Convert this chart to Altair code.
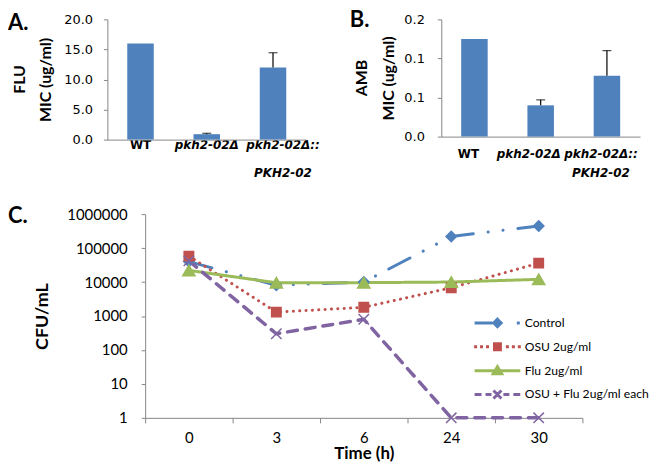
import altair as alt
import pandas as pd

FONT = "Lato"
AB_FONT = "DejaVu Sans"
BAR_COLOR = "#4F81BD"
AXIS_COLOR = "#868686"

# ---------------- data: panels A and B ----------------
strains = ["WT", "pkh2-02Δ", "pkh2-02Δ::PKH2-02"]
flu_mic = [16.0, 0.9, 12.0]
flu_err = [0.0, 0.15, 2.45]
flu_ticks = [0, 5, 10, 15, 20]
amb_mic = [0.125, 0.04, 0.078]
amb_err = [0.0, 0.007, 0.032]
amb_ticks = [0, 0.05, 0.1, 0.15]
amb_tick_labels = ["0.0", "0.1", "0.1", "0.2"]

# ---------------- data: panel C ----------------
times = ["0", "3", "6", "24", "30"]
series_names = ["Control", "OSU 2ug/ml", "Flu 2ug/ml", "OSU + Flu 2ug/ml each"]
control_cfu = [40000, 8000, 10000, 220000, 450000]
osu_cfu = [58000, 1300, 1800, 6800, 36000]
flu_cfu = [22000, 9500, 9600, 10000, 12000]
combo_cfu = [42000, 300, 800, 1, 1]
cfu_ticks = [1, 10, 100, 1000, 10000, 100000, 1000000]
series_colors = ["#4F81BD", "#C0504D", "#9BBB59", "#8064A2"]


def text_mark(text, dx, dy, size=22, angle=0, align="left", baseline="top"):
    return alt.Chart(pd.DataFrame({"t": [text]})).mark_text(
        align=align, baseline=baseline, font=FONT, fontSize=size, fontWeight="bold",
        color="black", angle=angle,
    ).encode(text="t:N", x=alt.value(dx), y=alt.value(dy))


label_expr = "datum.label == '%s' ? ['pkh2-02Δ::', 'PKH2-02'] : datum.label" % strains[2]


def bar_panel(mic, err, ticks, y_label_kw, drug, height, domain_max,
              letter_text, ldx, ldy, drug_dx, lab_pad, lab_lh, off_strain, off_val, off_default,
              y_lab_pad, title_pad):
    df = pd.DataFrame({"strain": strains, "mic": mic, "err": err})
    df["top"] = df["mic"] + df["err"]
    x = alt.X(
        "strain:N", sort=strains,
        scale=alt.Scale(paddingInner=0.6, paddingOuter=0.3),
        axis=alt.Axis(
            title=None, labelAngle=0, ticks=False, domainColor=AXIS_COLOR, domainWidth=1,
            labelFont=AB_FONT, labelFontSize=12, labelFontWeight="bold", labelColor="black",
            labelFontStyle={"condition": {"test": "datum.value == 'WT'", "value": "normal"}, "value": "italic"},
            labelOffset={"condition": {"test": "datum.value == '%s'" % off_strain, "value": off_val},
                         "value": off_default},
            labelExpr=label_expr, labelPadding=lab_pad, labelLineHeight=lab_lh,
        ),
    )
    y_axis = alt.Axis(
        values=ticks, grid=False, tickSize=4, tickColor=AXIS_COLOR, domainColor=AXIS_COLOR,
        labelFont=AB_FONT, labelFontSize=13, labelColor="black", labelPadding=y_lab_pad,
        title="MIC (ug/ml)", titleFont=FONT, titleFontSize=16, titleFontWeight="bold", titleColor="black",
        titlePadding=title_pad, **y_label_kw,
    )
    yscale = alt.Scale(domain=[0, domain_max], nice=False, zero=True)
    bars = alt.Chart(df).mark_bar(color=BAR_COLOR).encode(
        x=x, y=alt.Y("mic:Q", scale=yscale, axis=y_axis))
    edf = df[df["err"] > 0]
    rule = alt.Chart(edf).mark_rule(color="black", strokeWidth=1.2).encode(
        x=x, y=alt.Y("mic:Q", scale=yscale, axis=y_axis), y2="top:Q")
    cap = alt.Chart(edf).mark_tick(color="black", thickness=1.2, size=9).encode(
        x=x, y=alt.Y("top:Q", scale=yscale, axis=y_axis))
    return alt.layer(
        bars, rule, cap,
        text_mark(letter_text, ldx, ldy),
        text_mark(drug, drug_dx, height / 2, size=16, angle=270, align="center", baseline="middle"),
    ).properties(width=200, height=height)


# labelExpr for AMB axis built from tick values / labels
amb_expr = "'%s'" % amb_tick_labels[-1]
for i in range(len(amb_ticks) - 2, -1, -1):
    mid = (amb_ticks[i] + amb_ticks[i + 1]) / 2
    amb_expr = "datum.value < %g ? '%s' : (%s)" % (mid, amb_tick_labels[i], amb_expr)

panel_a = bar_panel(flu_mic, flu_err, flu_ticks, {"format": ".1f"}, "FLU", 121, 20,
                    "A.", -100, -6.5, -88, 0, 28, strains[2], 10, 0, 11, 10)
panel_b = bar_panel(amb_mic, amb_err, amb_ticks, {"labelExpr": amb_expr}, "AMB", 118, 0.15,
                    "B.", -92, -9, -80, 12, 19, strains[1], -12, -6, 13, 7)

# ---------------- panel C ----------------
rows = []
for s, vals in zip(series_names, [control_cfu, osu_cfu, flu_cfu, combo_cfu]):
    for t, v in zip(times, vals):
        rows.append({"time": t, "series": s, "cfu": v})
cdf = pd.DataFrame(rows)

C_WIDTH = 478
C_LEFT = 38  # plot area starts this far right of the panel origin

xc = alt.X(
    "time:N", sort=times, bandPosition=0.5,
    scale=alt.Scale(type="band", paddingInner=0, paddingOuter=0, range=[C_LEFT, C_WIDTH]),
    axis=alt.Axis(
        title="Time (h)", labelAngle=0, tickBand="extent", tickSize=5, tickColor=AXIS_COLOR,
        domainColor=AXIS_COLOR, labelFont=FONT, labelFontSize=15, labelColor="black", labelPadding=8,
        titleFont=FONT, titleFontSize=17, titleFontWeight="bold", titleColor="black", titlePadding=0,
    ),
)
yc = alt.Y(
    "cfu:Q", scale=alt.Scale(type="log", domain=[1, 1000000], nice=False),
    axis=alt.Axis(
        values=cfu_ticks, format="d", grid=False, tickSize=4, tickColor=AXIS_COLOR, offset=-C_LEFT,
        domainColor=AXIS_COLOR, labelFont=FONT, labelFontSize=15, labelColor="black", labelPadding=14,
        title="CFU/mL", titleFont=FONT, titleFontSize=18, titleFontWeight="bold", titleColor="black",
        titlePadding=15,
    ),
)

dashes = [[24, 15, 0.1, 15, 0.1, 15], [0.1, 6.3], [1, 0], [10, 8]]
widths = [3, 3, 3, 3.5]
marker_shapes = ["diamond", "square", "triangle-up", "M-1,-1L1,1M-1,1L1,-1"]
marker_sizes = [110, 90, 150, 110]
# legend symbols: line sample + marker, in units of 5 px
legend_paths = [
    "M-4.6,0L-1,0M0,-0.75L0.75,0L0,0.75L-0.75,0ZM3.9,0L4.5,0",
    "M-4.7,0L-4.1,0M-3.5,0L-2.9,0M-2.3,0L-1.7,0M-0.6,-0.6L0.6,-0.6L0.6,0.6L-0.6,0.6Z"
    "M1.7,0L2.3,0M2.9,0L3.5,0M4.1,0L4.7,0",
    "M-4.6,0L4.6,0M0,-0.8L0.85,0.6L-0.85,0.6Z",
    "M-4.6,0L-3.2,0M-2.4,0L-1.2,0M-0.8,-0.8L0.8,0.8M-0.8,0.8L0.8,-0.8M1.2,0L2.4,0M3.2,0L4.6,0",
]

legend = alt.Legend(
    title=None, orient="none", legendX=386, legendY=299, padding=0, symbolSize=100,
    symbolStrokeWidth=3, symbolOpacity=1,
    labelFont=FONT, labelFontSize=12.2, labelColor="black", labelOffset=21, rowPadding=4,
)

line_layers, point_layers = [], []
for s, c, d, w, shp, sz in zip(series_names, series_colors, dashes, widths, marker_shapes, marker_sizes):
    sub = alt.Chart(cdf).transform_filter(alt.datum.series == s)
    line_layers.append(sub.mark_line(
        color=c, strokeDash=d, strokeWidth=w, strokeCap="round", strokeJoin="round"
    ).encode(x=xc, y=yc))
    point_layers.append(sub.mark_point(
        shape=shp, filled=True, fill=c, stroke=c, strokeWidth=1.5, size=sz, opacity=1
    ).encode(x=xc, y=yc))

legend_layer = alt.Chart(cdf).transform_filter("false").mark_point(
    filled=True, opacity=1, strokeWidth=3, size=100
).encode(
    x=xc, y=yc,
    color=alt.Color("series:N", scale=alt.Scale(domain=series_names, range=series_colors), legend=legend),
    stroke=alt.Stroke("series:N", scale=alt.Scale(domain=series_names, range=series_colors), legend=legend),
    shape=alt.Shape("series:N", scale=alt.Scale(domain=series_names, range=legend_paths), legend=legend),
)

panel_c = alt.layer(
    *line_layers, *point_layers, legend_layer, text_mark("C.", -100, -8)
).properties(width=C_WIDTH, height=205)

chart = alt.concat(
    alt.hconcat(panel_a, panel_b, spacing=30),
    panel_c,
    columns=1, align="none", spacing=27,
).properties(padding=0).configure(font=FONT).configure_view(stroke=None)

chart.save("out.html", embed_options={"renderer": "svg", "actions": False})
